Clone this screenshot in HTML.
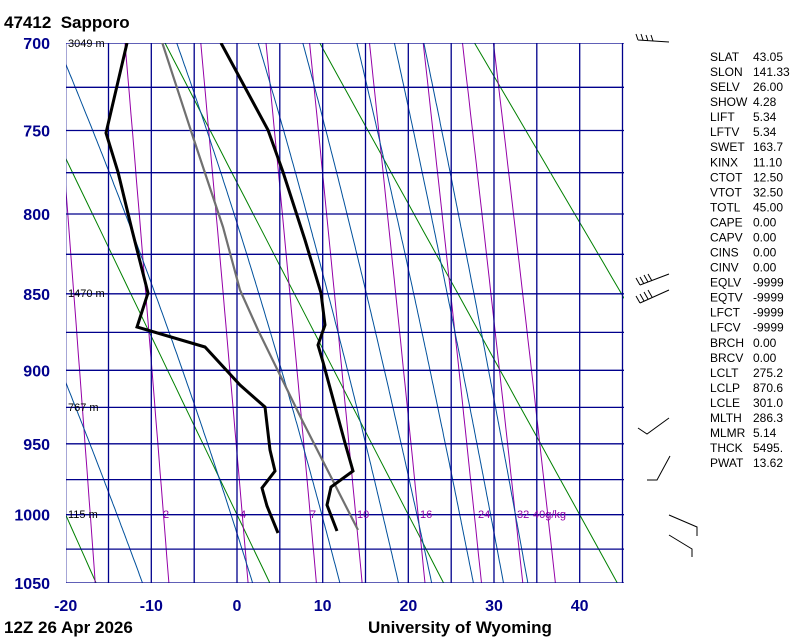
<!DOCTYPE html>
<html><head><meta charset="utf-8"><style>
body{margin:0;background:#fff;width:800px;height:640px;overflow:hidden;font-family:"Liberation Sans",sans-serif}
svg{position:absolute;left:0;top:0}
</style></head><body>
<svg id="s" width="800" height="640" xmlns="http://www.w3.org/2000/svg">
<defs><clipPath id="c"><rect x="66" y="43" width="558" height="540"/></clipPath></defs>
<g id="g" clip-path="url(#c)" fill="none"></g>
<g id="t"></g>
</svg>
<script>
var K=0.2857,A=Math.pow(700,K),B=Math.pow(1050,K);
function Y(p){return 43+540*(Math.pow(p,K)-A)/(B-A);}
function X(t){return 237+8.567*t;}
var g=document.getElementById('g'),tg=document.getElementById('t'),h='';
function pl(pts,c,w){h+='<polyline points="'+pts.map(function(a){return a[0].toFixed(1)+','+a[1].toFixed(1)}).join(' ')+'" stroke="'+c+'" stroke-width="'+w+'" fill="none"/>';}
function es(T){return 6.112*Math.exp(17.67*T/(T+243.5));}
// dry adiabats
for(var th=-60;th<=200;th+=20){var pts=[];for(var p=690;p<=1060;p+=10){var T=(th+273.15)*Math.pow(p/1000,K)-273.15;pts.push([X(T),Y(p)]);}pl(pts,'#008000',1);}
// mixing ratio
[1,2,4,7,10,16,24,32,40].forEach(function(w){var pts=[];for(var p=690;p<=1060;p+=10){var e=w*p/(622+w);var l=Math.log(e/6.112);var T=243.5*l/(17.67-l);pts.push([X(T),Y(p)]);}pl(pts,'#9400a8',1);});
// moist adiabats
function moist(T0){var pts=[];function step(T,p,dp){var Tk=T+273.15;var rs=0.622*es(T)/(p-es(T));var L=2.5e6,Rd=287,cp=1004;var d=(Rd*Tk+L*rs)/(p*(cp+L*L*rs*0.622/(Rd*Tk*Tk)));return T+d*dp;}
var T=T0,p=1000;pts.push([X(T),Y(p)]);while(p>690){T=step(T,p,-2);p-=2;pts.unshift([X(T),Y(p)]);}
T=T0;p=1000;while(p<1060){T=step(T,p,2);p+=2;pts.push([X(T),Y(p)]);}pl(pts,'#00509c',1);}
[-14,-0.7,9.9,17,21,26,29.6,32.5].forEach(moist);
// grid
for(var p=700;p<=1050;p+=25){h+='<line x1="66" x2="624" y1="'+Y(p).toFixed(1)+'" y2="'+Y(p).toFixed(1)+'" stroke="#00008c" stroke-width="1.3"/>';}
for(var t=-20;t<=45;t+=5){h+='<line y1="43" y2="583" x1="'+X(t).toFixed(1)+'" x2="'+X(t).toFixed(1)+'" stroke="#00008c" stroke-width="1.3"/>';}
// parcel
h+='<polyline points="358,530 302,420 258,330 240,290 223,227 193,137 162,42" stroke="#707070" stroke-width="2.2" fill="none"/>';
// temp
h+='<polyline points="221,43 268,130 283,172 305,240 321,293 325,325 318,345 323,362 345,443 353,471 331,487 327,505 337,531" stroke="#000" stroke-width="3" fill="none"/>';
// dewpoint
h+='<polyline points="127,43 106,133 118,172 132,230 148,293 137,327 205,347 240,385 265,407 270,450 275,471 262,488 267,506 278,533" stroke="#000" stroke-width="3" fill="none"/>';
g.innerHTML=h;
var s='';
function tx(x,y,str,sz,col,wt,anc){s+='<text x="'+x+'" y="'+y+'" font-size="'+sz+'" fill="'+col+'" font-weight="'+(wt||'normal')+'" text-anchor="'+(anc||'start')+'" font-family="Liberation Sans, sans-serif">'+str+'</text>';}
tx(4,28,'47412&#160; Sapporo',17,'#000','bold');
[700,750,800,850,900,950,1000,1050].forEach(function(p){tx(50,Y(p)+6,p,16,'#00008c','bold','end');});
[-20,-10,0,10,20,30,40].forEach(function(t){tx(X(t),611,t,16,'#00008c','bold','middle');});
tx(4,633,'12Z 26 Apr 2026',17,'#000','bold');
tx(368,633,'University of Wyoming',17,'#000','bold');
tx(68,47,'3049 m',11,'#000');tx(68,297,'1470 m',11,'#000');tx(68,411,'767 m',11,'#000');tx(68,518,'115 m',11,'#000');
[['2',163],['4',240],['7',310],['10',357],['16',420],['24',478],['32',517],['40g/kg',533]].forEach(function(a){tx(a[1],518,a[0],11,'#9400a8');});
var st=[['SLAT','43.05'],['SLON','141.33'],['SELV','26.00'],['SHOW','4.28'],['LIFT','5.34'],['LFTV','5.34'],['SWET','163.7'],['KINX','11.10'],['CTOT','12.50'],['VTOT','32.50'],['TOTL','45.00'],['CAPE','0.00'],['CAPV','0.00'],['CINS','0.00'],['CINV','0.00'],['EQLV','-9999'],['EQTV','-9999'],['LFCT','-9999'],['LFCV','-9999'],['BRCH','0.00'],['BRCV','0.00'],['LCLT','275.2'],['LCLP','870.6'],['LCLE','301.0'],['MLTH','286.3'],['MLMR','5.14'],['THCK','5495.'],['PWAT','13.62']];
st.forEach(function(a,i){var y=61+i*15.04;tx(710,y,a[0],12,'#000');tx(753,y,a[1],12,'#000');});
// wind barbs
s+='<g stroke="#000" stroke-width="1" fill="none">';
s+='<path d="M669,42 L638,40 M638,40 L636,34 M643,40 L641,34 M648,41 L646,35 M653,41 L651,35"/>';
s+='<path d="M669,274 L640,285 M640,285 L636,278 M644,284 L640,277 M648,282 L644,275 M652,281 L648,274"/>';
s+='<path d="M669,290 L640,303 M640,303 L636,296 M644,301 L640,294 M648,299 L644,292 M652,297 L648,290"/>';
s+='<path d="M669,418 L647,434 L638,428"/>';
s+='<path d="M670,456 L657,480 L647,480"/>';
s+='<path d="M669,515 L697,527 L697,536"/>';
s+='<path d="M669,535 L692,549 L692,557"/>';
s+='</g>';
tg.innerHTML=s;
</script>
</body></html>
